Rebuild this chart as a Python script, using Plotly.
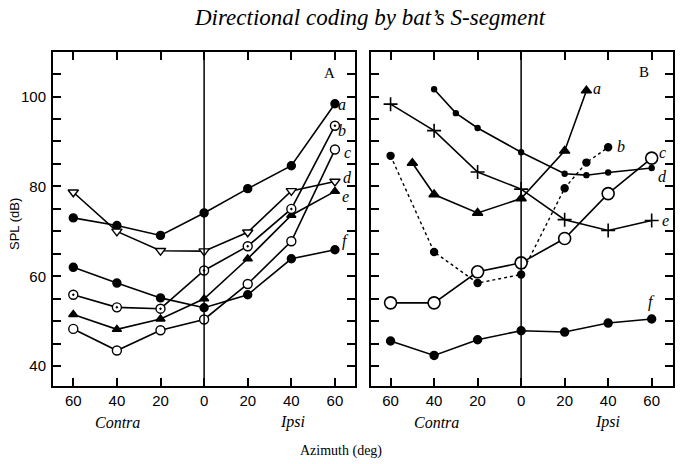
import plotly.graph_objects as go

W, H = 681, 464

# ---------------- data ----------------
az = [-60, -40, -20, 0, 20, 40, 60]
tick_vals_x = [-60, -40, -20, 0, 20, 40, 60]
tick_text_x = ["60", "40", "20", "0", "20", "40", "60"]

# Panel A
A_a = [73, 71.3, 69.1, 74.1, 79.5, 84.6, 98.4]
A_b = [55.9, 53.1, 52.8, 61.3, 66.7, 75.0, 93.5]
A_c = [48.3, 43.5, 48.0, 50.4, 58.3, 67.8, 88.2]
A_d = [78.7, 70.0, 65.7, 65.6, 69.8, 79.0, 81.1]
A_e = [51.5, 48.2, 50.5, 55.0, 63.9, 73.6, 78.9]
A_f = [62.0, 58.5, 55.2, 53.0, 55.9, 63.9, 65.9]

# Panel B
B_a_x = [-50, -40, -20, 0, 20, 30]
B_a = [85.2, 78.2, 74.1, 77.3, 87.9, 101.3]
B_b_x = [-60, -40, -20, 0, 20, 30, 40]
B_b = [86.8, 65.4, 58.5, 60.4, 79.6, 85.3, 88.7]
B_c = [54.1, 54.1, 61.0, 63.0, 68.4, 78.4, 86.3]
B_d_x = [-40, -30, -20, 0, 20, 30, 40, 60]
B_d = [101.6, 96.3, 93.0, 87.6, 82.8, 82.5, 83.1, 84.1]
B_e = [98.3, 92.4, 83.2, 79.4, 72.6, 70.2, 72.4]
B_f = [45.6, 42.4, 45.9, 47.9, 47.6, 49.6, 50.5]

y_tick_vals = list(range(40, 110, 5))
y_tick_text = [str(v) if v % 20 == 0 else "" for v in y_tick_vals]

SERIF = "Liberation Serif, Times New Roman, serif"
SANS = "Liberation Sans, Arial, sans-serif"

fig = go.Figure()


def add(x, y, sym, size, xa, ya, fill="black", dash="solid", lw=1.6, mlw=1.4):
    fig.add_trace(go.Scatter(
        x=x, y=y, mode="lines+markers", xaxis=xa, yaxis=ya,
        line=dict(color="black", width=lw, dash=dash),
        marker=dict(symbol=sym, size=size, color=fill,
                    line=dict(color="black", width=mlw)),
        showlegend=False, hoverinfo="skip"))


# Panel A
add(az, A_a, "circle", 8, "x", "y")
add(az, A_f, "circle", 8, "x", "y")
add(az, A_d, "triangle-down", 9, "x", "y", fill="white")
add(az, A_e, "triangle-up", 8, "x", "y")
add(az, A_b, "circle-dot", 9, "x", "y", fill="white")
add(az, A_c, "circle", 9, "x", "y", fill="white")

# Panel B
add(B_d_x, B_d, "circle", 5, "x2", "y2")
add(az, B_e, "cross-thin-open", 10, "x2", "y2", mlw=1.6)
add(B_a_x, B_a, "triangle-up", 9, "x2", "y2")
add(B_b_x, B_b, "circle", 7, "x2", "y2", dash="dot", lw=1.4)
add(az, B_c, "circle", 12, "x2", "y2", fill="white", mlw=1.6)
add(az, B_f, "circle", 8, "x2", "y2")

xA = [53 / W, 355 / W]
xB = [371 / W, 673 / W]
yD = [(H - 386) / H, (H - 52) / H]

axis_common = dict(showline=True, linecolor="black", linewidth=2, mirror="ticks",
                   ticks="inside", ticklen=8, tickwidth=1.5, tickcolor="black",
                   showgrid=False, zeroline=False,
                   tickfont=dict(family=SANS, size=15, color="black"))

fig.update_layout(
    width=W, height=H,
    margin=dict(l=0, r=0, t=0, b=0),
    paper_bgcolor="white", plot_bgcolor="white",
    xaxis=dict(domain=xA, range=[-69.3, 69.2], tickvals=tick_vals_x, ticktext=tick_text_x,
               anchor="y", **axis_common),
    xaxis2=dict(domain=xB, range=[-69.0, 69.8], tickvals=tick_vals_x, ticktext=tick_text_x,
                anchor="y2", **axis_common),
    yaxis=dict(domain=yD, range=[35.6, 109.9], tickvals=y_tick_vals, ticktext=y_tick_text,
               anchor="x", ticklabelstandoff=2, **axis_common),
    yaxis2=dict(domain=yD, range=[35.6, 109.9], tickvals=y_tick_vals, ticktext=y_tick_text,
                anchor="x2", showticklabels=False, **axis_common),
)

# zero lines
for xr in ["x", "x2"]:
    fig.add_shape(type="line", xref=xr, yref=("y domain" if xr == "x" else "y2 domain"),
                  x0=0, x1=0, y0=0, y1=1, line=dict(color="black", width=1.5))


def ann(px, py, text, size=14, family=SERIF, italic=False, angle=0):
    fig.add_annotation(x=px / W, y=1 - py / H, xref="paper", yref="paper",
                       text=(f"<i>{text}</i>" if italic else text), showarrow=False,
                       font=dict(family=family, size=size, color="black"),
                       xanchor="center", yanchor="middle", textangle=angle)


ann(370, 17, "Directional coding by bat’s S-segment", size=23, italic=True)
ann(329, 73, "A", size=15)
ann(644, 72, "B", size=15)
ann(14, 224, "SPL (dB)", size=13, family=SANS, angle=-90)
ann(117, 422, "Contra", size=16, italic=True)
ann(292, 422, "Ipsi", size=16, italic=True)
ann(436, 422, "Contra", size=16, italic=True)
ann(607, 422, "Ipsi", size=16, italic=True)
ann(341, 451, "Azimuth (deg)", size=14)

# curve labels
for (px, py, t) in [(342, 104, "a"), (342, 130, "b"), (347, 152, "c"), (347, 177, "d"),
                    (345, 197, "e"), (346, 241, "f"),
                    (597, 89, "a"), (621, 146, "b"), (662, 153, "c"), (662, 176, "d"),
                    (665, 221, "e"), (651, 302, "f")]:
    ann(px, py, t, size=16, italic=True)

fig.write_html("out.html")
